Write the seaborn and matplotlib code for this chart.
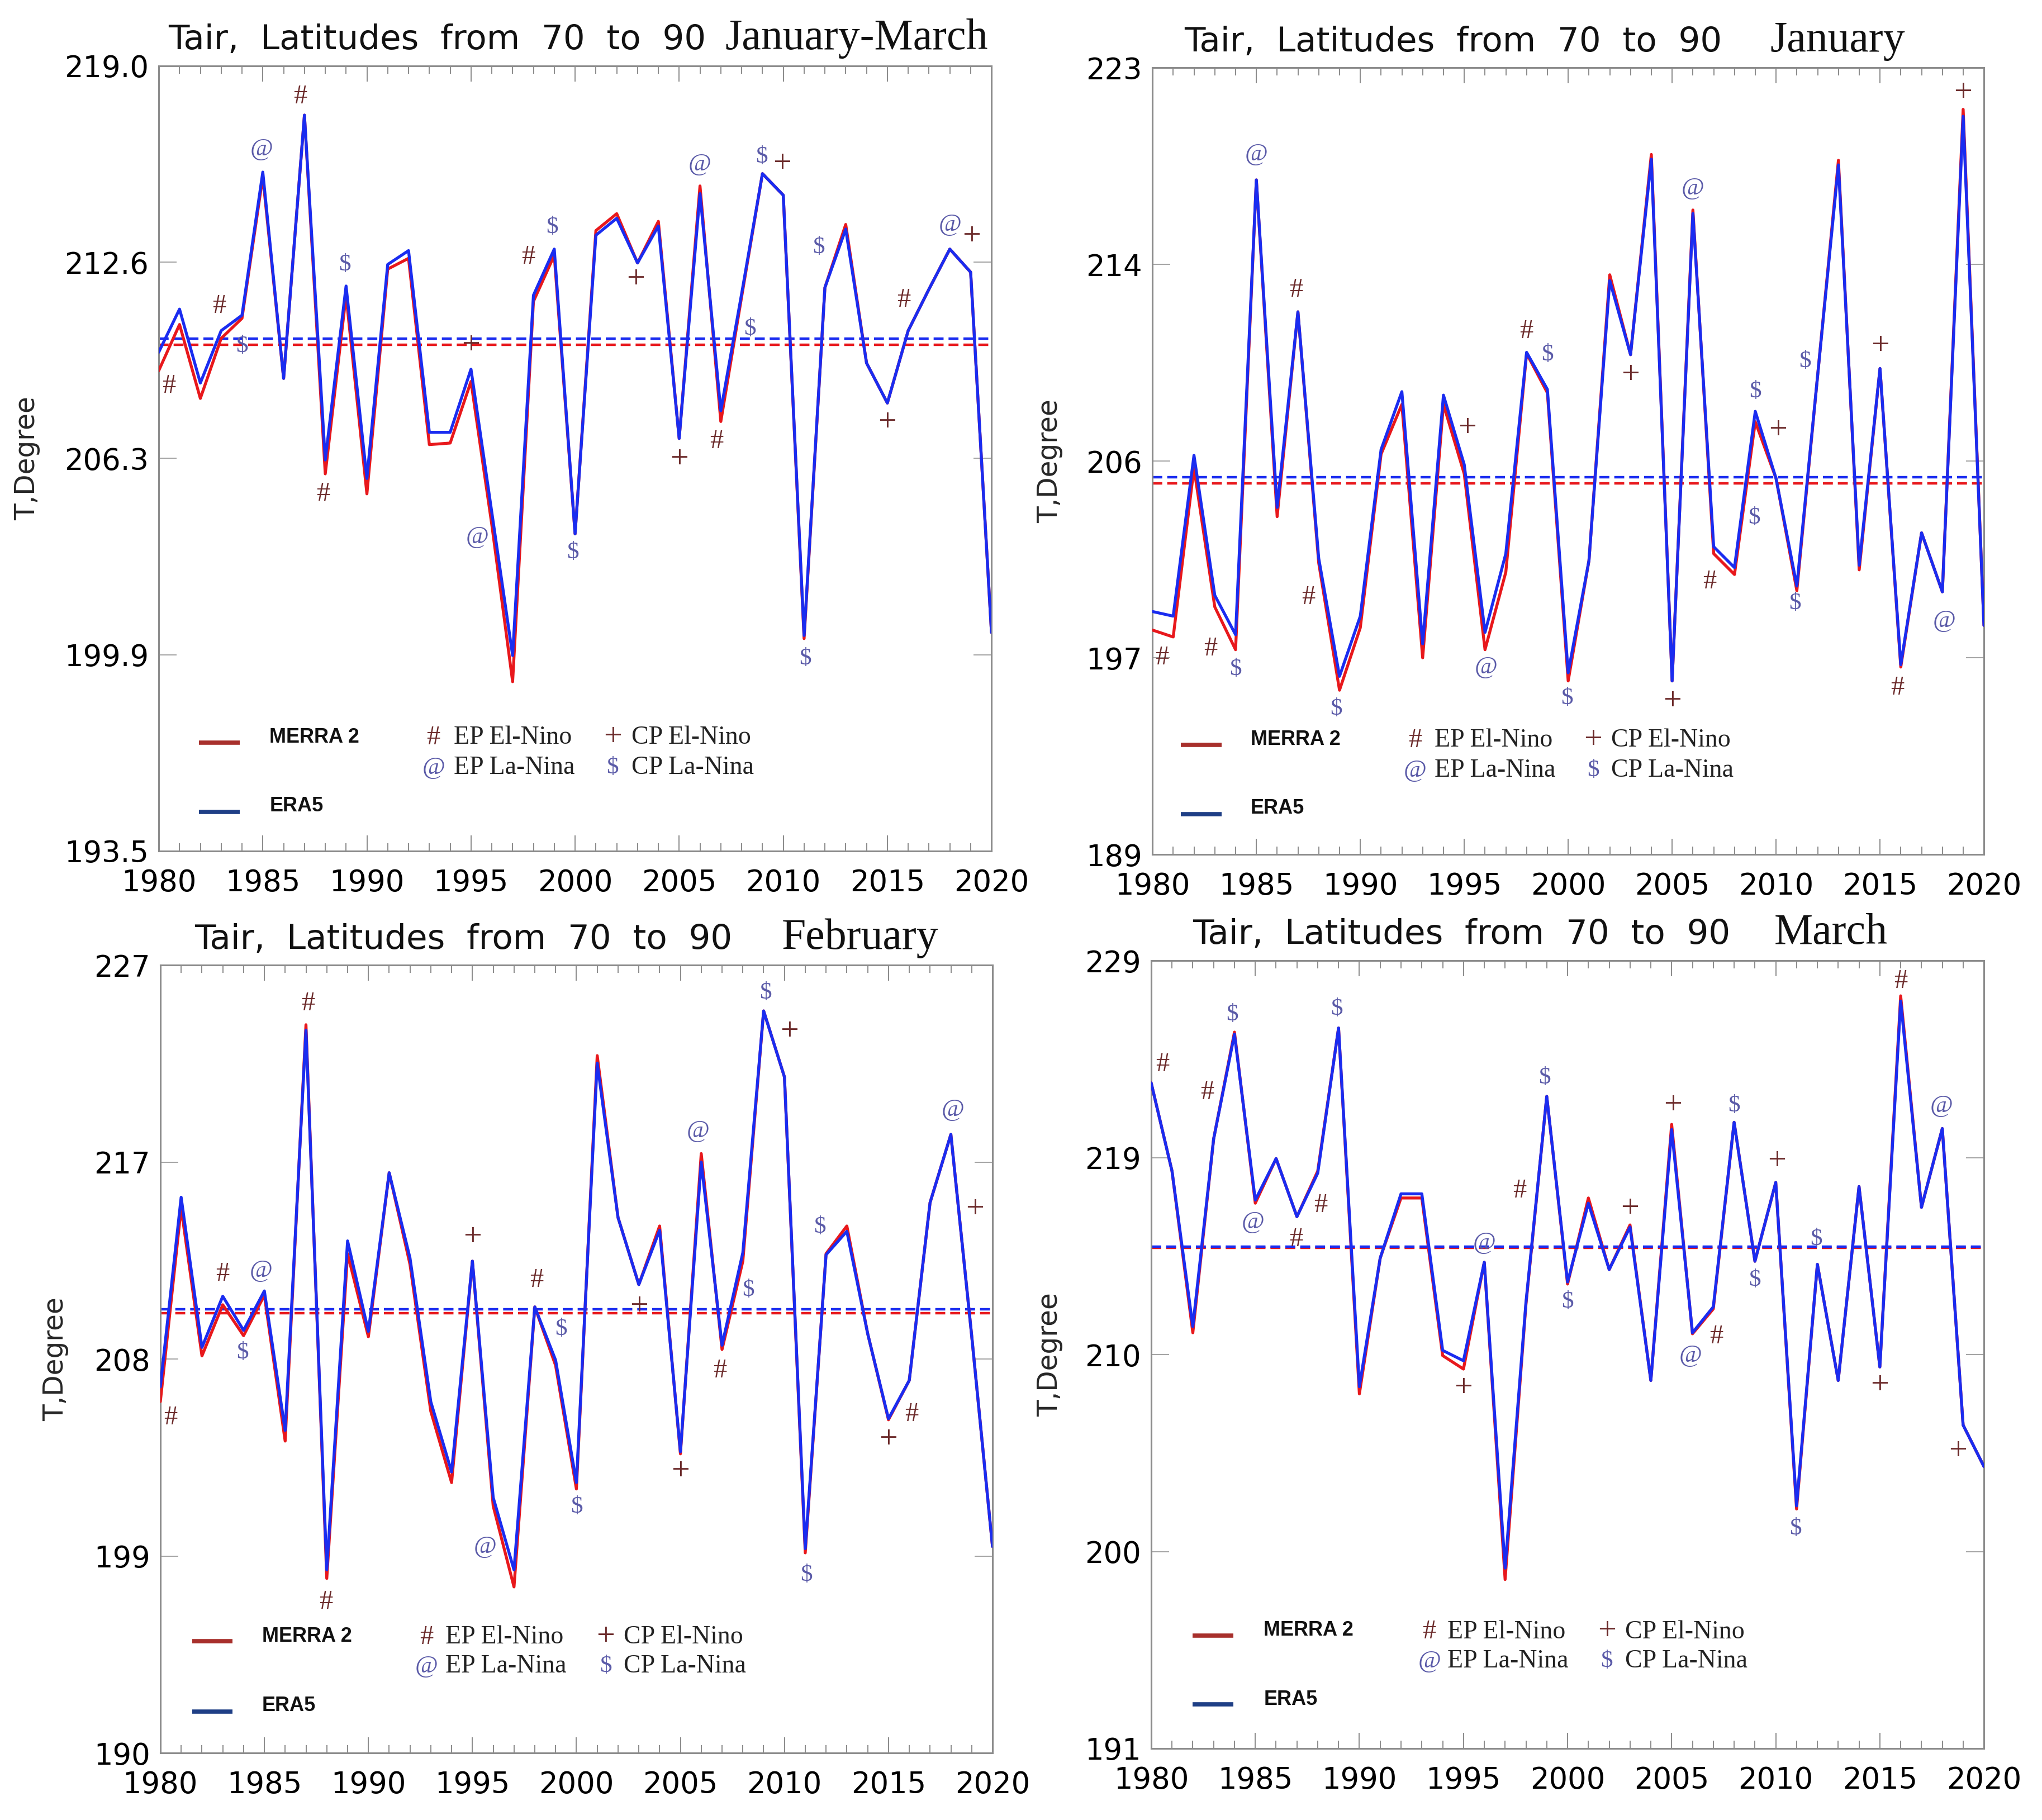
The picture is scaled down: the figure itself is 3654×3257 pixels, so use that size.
import numpy as np
import pandas as pd
import matplotlib
matplotlib.use("Agg")
import matplotlib.pyplot as plt
import seaborn as sns

# ---------------- data ----------------
years = list(range(1980, 2021))

jfm_era5 = [209.7, 211.1, 208.7, 210.4, 210.9, 215.55, 208.85, 217.4, 206.2, 211.85,
            205.6, 212.55, 213.0, 207.1, 207.1, 209.15, 204.5, 199.85, 211.55, 213.05,
            203.8, 213.5, 214.05, 212.6, 213.8, 206.9, 214.85, 207.8, 211.6, 215.5,
            214.8, 200.5, 211.8, 213.7, 209.35, 208.05, 210.4, 211.75, 213.05, 212.3, 200.6]
jfm_merra = [209.1, 210.6, 208.2, 210.15, 210.8, 215.4, 208.85, 217.4, 205.75, 211.55,
             205.1, 212.4, 212.75, 206.7, 206.75, 208.75, 204.1, 199.0, 211.35, 212.85,
             203.8, 213.65, 214.2, 212.6, 213.95, 206.9, 215.1, 207.45, 211.5, 215.5,
             214.8, 200.4, 211.8, 213.85, 209.35, 208.05, 210.4, 211.75, 213.05, 212.3, 200.6]
jfm_mean_era5, jfm_mean_merra = 210.14, 209.95

jan_era5 = [199.5, 199.3, 206.25, 200.2, 198.5, 218.15, 204.0, 212.45, 201.8, 196.7,
            199.3, 206.5, 209.0, 198.1, 208.85, 205.85, 198.6, 202.0, 210.7, 209.1,
            196.85, 201.7, 213.8, 210.6, 219.05, 196.5, 216.7, 202.3, 201.4, 208.15,
            205.25, 200.6, 209.7, 218.8, 201.5, 210.0, 197.2, 202.9, 200.35, 220.9, 198.9]
jan_merra = [198.7, 198.4, 205.7, 199.7, 197.85, 218.15, 203.6, 212.45, 201.6, 196.1,
             198.8, 206.3, 208.45, 197.5, 208.45, 205.45, 197.85, 201.2, 210.65, 208.95,
             196.5, 201.7, 214.05, 210.6, 219.25, 196.5, 216.85, 202.0, 201.1, 207.7,
             205.25, 200.4, 209.7, 219.0, 201.3, 210.0, 197.1, 202.9, 200.35, 221.2, 198.9]
jan_mean_era5, jan_mean_merra = 205.3, 205.05

feb_era5 = [207.2, 216.1, 209.05, 211.45, 209.85, 211.7, 205.15, 223.95, 198.6, 214.05,
            209.8, 217.25, 213.25, 206.5, 203.2, 213.1, 202.0, 198.6, 210.95, 208.45,
            202.7, 222.4, 215.15, 212.0, 214.55, 204.15, 217.75, 209.15, 213.5, 224.85,
            221.75, 199.6, 213.4, 214.5, 209.7, 205.7, 207.5, 215.85, 219.05, 209.6, 199.7]
feb_merra = [206.5, 215.6, 208.65, 211.05, 209.6, 211.5, 204.65, 224.2, 198.2, 213.45,
             209.55, 217.25, 212.95, 206.05, 202.7, 213.1, 201.6, 197.8, 210.95, 208.2,
             202.4, 222.75, 215.15, 212.0, 214.75, 204.05, 218.15, 208.95, 213.1, 224.85,
             221.75, 199.4, 213.45, 214.75, 209.7, 205.65, 207.5, 215.85, 219.05, 209.6, 199.7]
feb_mean_era5, feb_mean_merra = 210.85, 210.65

mar_era5 = [223.1, 218.85, 211.35, 220.4, 225.45, 217.45, 219.45, 216.65, 218.75, 225.75,
            208.45, 214.65, 217.75, 217.75, 210.2, 209.7, 214.45, 199.7, 212.5, 222.45,
            213.5, 217.3, 214.1, 216.15, 208.75, 220.85, 211.05, 212.3, 221.2, 214.5,
            218.3, 202.7, 214.35, 208.75, 218.1, 209.4, 227.05, 217.1, 220.9, 206.6, 204.6]
mar_merra = [223.1, 218.85, 211.05, 220.4, 225.55, 217.3, 219.45, 216.65, 218.85, 225.75,
             208.1, 214.65, 217.55, 217.55, 209.95, 209.3, 214.45, 199.15, 212.4, 222.45,
             213.4, 217.55, 214.1, 216.25, 208.75, 221.1, 211.0, 212.2, 221.2, 214.5,
             218.3, 202.55, 214.35, 208.75, 218.1, 209.4, 227.3, 217.1, 220.9, 206.6, 204.6]
mar_mean_era5, mar_mean_merra = 215.2, 215.15

# y-axis ranges and tick labels
jfm_yticks = [193.5, 199.875, 206.25, 212.625, 219.0]
jfm_ylabels = ["193.5", "199.9", "206.3", "212.6", "219.0"]
jan_yticks = [189, 197.5, 206, 214.5, 223]
jan_ylabels = ["189", "197", "206", "214", "223"]
feb_yticks = [190, 199.25, 208.5, 217.75, 227]
feb_ylabels = ["190", "199", "208", "217", "227"]
mar_yticks = [191, 200.5, 210, 219.5, 229]
mar_ylabels = ["191", "200", "210", "219", "229"]

# ENSO event markers (symbol, year position, value position)
jfm_sym = ["#", "#", "$", "@", "#", "#", "$", "+", "@", "#", "$", "$", "+", "+", "@",
           "#", "$", "$", "+", "$", "$", "+", "#", "@", "+"]
jfm_sx = [1980.5, 1982.9, 1984.0, 1984.95, 1986.8, 1987.9, 1988.95, 1995.0, 1995.3, 1997.75,
          1998.9, 1999.9, 2002.9, 2005.0, 2006.0, 2006.8, 2008.4, 2008.95, 2009.95, 2011.05,
          2011.7, 2015.0, 2015.8, 2018.0, 2019.05]
jfm_sy = [208.6, 211.2, 209.9, 216.3, 218.0, 205.1, 212.55, 209.9, 203.7, 212.8,
          213.75, 203.2, 212.05, 206.2, 215.8, 206.8, 210.45, 216.05, 215.8, 199.75,
          213.1, 207.4, 211.4, 213.85, 213.45]

jan_sym = ["#", "#", "$", "@", "#", "#", "$", "+", "@", "#", "$", "$", "+", "+", "@",
           "#", "$", "$", "+", "$", "$", "+", "#", "@", "+"]
jan_sx = [1980.45, 1982.8, 1984.0, 1985.0, 1986.9, 1987.5, 1988.85, 1995.15, 1996.05, 1998.0,
          1999.0, 1999.95, 2003.0, 2005.0, 2006.0, 2006.8, 2009.0, 2008.95, 2010.1, 2010.9,
          2011.4, 2015.0, 2015.85, 2018.1, 2019.0]
jan_sy = [197.5, 197.9, 197.0, 219.25, 213.4, 200.1, 195.3, 207.4, 197.1, 211.6,
          210.6, 195.75, 209.7, 195.6, 217.8, 200.8, 209.0, 203.55, 207.3, 199.85,
          210.3, 210.95, 196.2, 199.1, 221.9]

feb_sym = ["#", "#", "$", "@", "#", "#", "+", "@", "#", "$", "$", "+", "+", "@",
           "#", "$", "$", "+", "$", "$", "+", "#", "@", "+"]
feb_sx = [1980.5, 1983.0, 1983.95, 1984.85, 1987.1, 1987.95, 1995.0, 1995.6, 1998.1, 1999.25,
          2000.0, 2003.0, 2005.0, 2005.85, 2006.9, 2008.25, 2009.1, 2010.25, 2011.7, 2011.05,
          2015.0, 2016.1, 2018.1, 2019.15]
feb_sy = [205.75, 212.5, 208.8, 212.65, 225.2, 197.1, 214.2, 199.7, 212.2, 209.9,
          201.55, 210.95, 203.2, 219.2, 207.95, 211.75, 225.7, 223.85, 214.7, 198.35,
          204.7, 205.9, 220.2, 215.5]

mar_sym = ["#", "#", "$", "@", "#", "#", "$", "+", "@", "#", "$", "$", "+", "+", "@",
           "#", "$", "$", "+", "$", "$", "+", "#", "@", "+"]
mar_sx = [1980.55, 1982.7, 1983.9, 1984.9, 1986.95, 1988.15, 1988.9, 1995.0, 1996.0, 1997.7,
          1998.9, 2000.0, 2003.0, 2005.05, 2005.9, 2007.15, 2008.0, 2009.0, 2010.05, 2010.95,
          2011.95, 2015.0, 2016.0, 2017.95, 2018.75]
mar_sy = [224.0, 222.65, 226.4, 216.4, 215.55, 217.2, 226.65, 208.35, 215.4, 217.9,
          223.35, 212.55, 217.0, 222.0, 209.95, 210.85, 222.0, 213.6, 219.3, 201.6,
          215.55, 208.5, 228.0, 222.0, 205.3]

title_prefix = "Tair,  Latitudes  from  70  to  90"
months = ["January-March", "January", "February", "March"]
legend_names = ["MERRA 2", "ERA5"]
event_names = [["EP El-Nino", "CP El-Nino"], ["EP La-Nina", "CP La-Nina"]]
event_syms = [["#", "+"], ["@", "$"]]

# ---------------- style ----------------
RED = "#e8181c"
BLUE = "#1a2cf0"
RED_LEG = "#a8302c"
BLUE_LEG = "#1f3f86"
SYM_WARM = "#6b2a2a"
SYM_COLD = "#5a5aa8"
SPINE = "#8c8c8c"
SYM_SIZE = {"#": 35, "+": 42, "@": 32, "$": 31}

sns.set_theme(style="white")
plt.rcParams["font.family"] = ["DejaVu Sans"]

fig = plt.figure(figsize=(36.55, 32.57), dpi=100)

panels = [
    dict(pos=[0.0777, 0.5324, 0.4077, 0.4314], era5=jfm_era5, merra=jfm_merra,
         me=jfm_mean_era5, mm=jfm_mean_merra, yt=jfm_yticks, yl=jfm_ylabels,
         sym=jfm_sym, sx=jfm_sx, sy=jfm_sy, month=months[0],
         tx=0.0114, mx=0.680, ylx=-0.142,
         leg=dict(lx=(0.048, 0.097), ry=0.138, by=0.050, tx=0.133, rty=0.145, bty=0.057,
                  sx=(0.330, 0.354, 0.545, 0.568), sy=(0.1445, 0.106))),
    dict(pos=[0.5642, 0.5305, 0.4071, 0.4323], era5=jan_era5, merra=jan_merra,
         me=jan_mean_era5, mm=jan_mean_merra, yt=jan_yticks, yl=jan_ylabels,
         sym=jan_sym, sx=jan_sx, sy=jan_sy, month=months[1],
         tx=0.038, mx=0.743, ylx=-0.1075,
         leg=dict(lx=(0.034, 0.083), ry=0.139, by=0.051, tx=0.118, rty=0.146, bty=0.059,
                  sx=(0.316, 0.339, 0.530, 0.552), sy=(0.145, 0.1065))),
    dict(pos=[0.0785, 0.0368, 0.4074, 0.4329], era5=feb_era5, merra=feb_merra,
         me=feb_mean_era5, mm=feb_mean_merra, yt=feb_yticks, yl=feb_ylabels,
         sym=feb_sym, sx=feb_sx, sy=feb_sy, month=months[2],
         tx=0.041, mx=0.747, ylx=-0.110,
         leg=dict(lx=(0.038, 0.087), ry=0.142, by=0.0525, tx=0.122, rty=0.148, bty=0.060,
                  sx=(0.320, 0.3425, 0.535, 0.557), sy=(0.147, 0.110))),
    dict(pos=[0.5636, 0.0393, 0.4077, 0.4329], era5=mar_era5, merra=mar_merra,
         me=mar_mean_era5, mm=mar_mean_merra, yt=mar_yticks, yl=mar_ylabels,
         sym=mar_sym, sx=mar_sx, sy=mar_sy, month=months[3],
         tx=0.050, mx=0.748, ylx=-0.106,
         leg=dict(lx=(0.050, 0.099), ry=0.143, by=0.056, tx=0.135, rty=0.150, bty=0.062,
                  sx=(0.334, 0.356, 0.547, 0.569), sy=(0.148, 0.1105))),
]

SERIF = ["Liberation Serif", "DejaVu Serif"]
NARROW = ["Liberation Sans Narrow", "Liberation Sans", "DejaVu Sans"]

for p in panels:
    ax = fig.add_axes(p["pos"])
    df = pd.DataFrame({"Year": years, "MERRA 2": p["merra"], "ERA5": p["era5"]})
    sns.lineplot(data=df, x="Year", y="MERRA 2", color=RED, lw=3.8, ax=ax, zorder=3)
    sns.lineplot(data=df, x="Year", y="ERA5", color=BLUE, lw=3.8, ax=ax, zorder=4)
    ax.axhline(p["mm"], color=RED, lw=3.2, ls=(0, (4.0, 2.0)), zorder=2)
    ax.axhline(p["me"], color=BLUE, lw=3.2, ls=(0, (4.0, 2.0)), zorder=2)

    ax.set_xlim(1980, 2020)
    ax.set_ylim(p["yt"][0], p["yt"][-1])
    ax.set_xticks(list(range(1980, 2021, 5)))
    ax.set_xticks(years, minor=True)
    ax.set_xticklabels([str(y) for y in range(1980, 2021, 5)])
    ax.set_yticks(p["yt"])
    ax.set_yticklabels(p["yl"])
    ax.tick_params(axis="both", which="both", direction="in", top=True, right=True,
                   bottom=True, left=True, color="#8a8a8a", labelsize=38, labelcolor="black")
    ax.tick_params(axis="x", which="major", length=20, width=1.4, pad=22)
    ax.tick_params(axis="x", which="minor", length=10, width=1.4)
    ax.tick_params(axis="y", which="major", length=23, width=1.1, pad=13)
    for s in ax.spines.values():
        s.set_color(SPINE)
        s.set_linewidth(2.2)
        s.set_visible(True)
    ax.set_xlabel("")
    ax.set_ylabel("T,Degree", fontsize=35)
    ax.yaxis.set_label_coords(p["ylx"], 0.5)
    ax.grid(False)
    ax.set_facecolor("white")

    # title: sans prefix + serif month
    ax.text(p["tx"], 1.021, title_prefix, transform=ax.transAxes, fontsize=44,
            ha="left", va="baseline", color="#111111")
    ax.text(p["mx"], 1.021, p["month"], transform=ax.transAxes, fontsize=56,
            family=SERIF, ha="left", va="baseline", color="#111111")

    # event symbols
    for s, x, y in zip(p["sym"], p["sx"], p["sy"]):
        col = SYM_WARM if s in ("#", "+") else SYM_COLD
        ax.text(x, y, s, fontsize=SYM_SIZE[s], family=SERIF, color=col, ha="center",
                va="center", parse_math=False, zorder=5)

    # legend
    L = p["leg"]
    ax.plot(L["lx"], [L["ry"], L["ry"]], color=RED_LEG, lw=5.5, transform=ax.transAxes,
            solid_capstyle="butt")
    ax.plot(L["lx"], [L["by"], L["by"]], color=BLUE_LEG, lw=5.5, transform=ax.transAxes,
            solid_capstyle="butt")
    ax.text(L["tx"], L["rty"], legend_names[0], transform=ax.transAxes, fontsize=26,
            family=NARROW, weight="bold", ha="left", va="center", color="#111111")
    ax.text(L["tx"], L["bty"], legend_names[1], transform=ax.transAxes, fontsize=26,
            family=NARROW, weight="bold", ha="left", va="center", color="#111111")
    for r in range(2):
        for c in range(2):
            s = event_syms[r][c]
            col = SYM_WARM if s in ("#", "+") else SYM_COLD
            ax.text(L["sx"][2 * c], L["sy"][r], s, transform=ax.transAxes,
                    fontsize=SYM_SIZE[s], family=SERIF, color=col, ha="center",
                    va="center", parse_math=False)
            ax.text(L["sx"][2 * c + 1], L["sy"][r], event_names[r][c], transform=ax.transAxes,
                    fontsize=33, family=SERIF, color="#222222", ha="left", va="center")

fig.savefig("out.png", dpi=100, facecolor="white")
